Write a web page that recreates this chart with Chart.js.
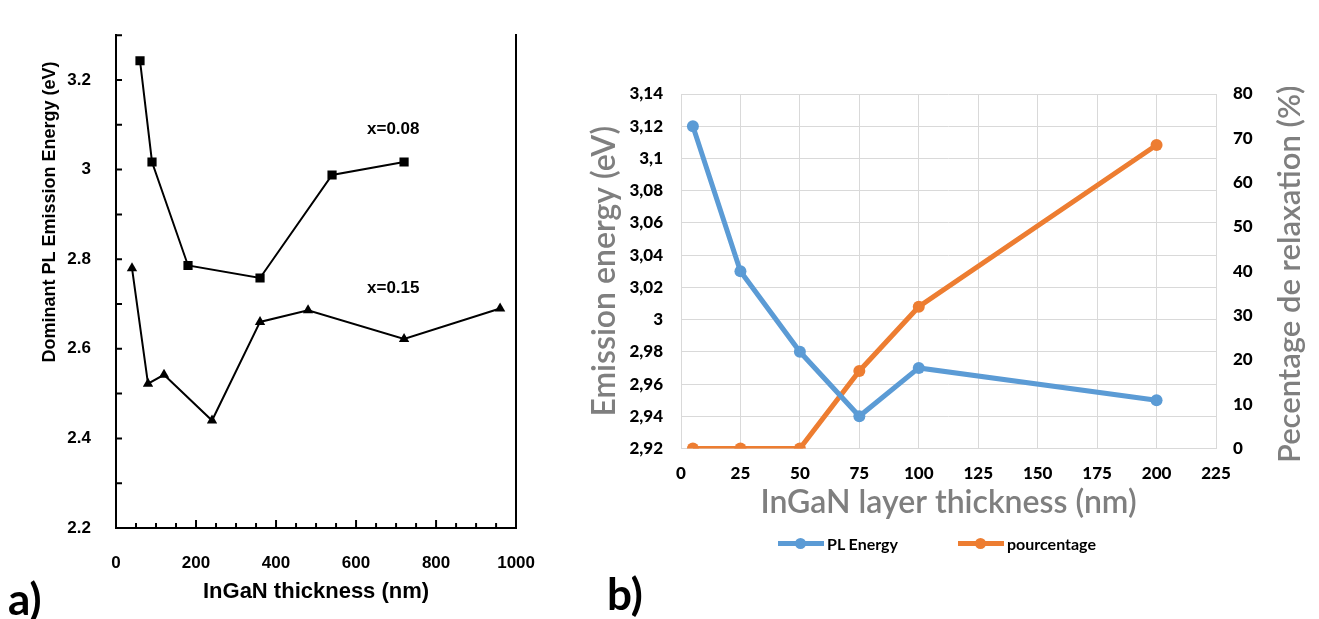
<!DOCTYPE html>
<html>
<head>
<meta charset="utf-8">
<script src="https://cdn.jsdelivr.net/npm/chart.js@4"></script>
<style>
  html, body { margin: 0; padding: 0; background: #fff; }
  body { width: 1319px; height: 619px; position: relative; overflow: hidden; }
  .panel { position: absolute; top: 0; height: 619px; }
  #panelA { left: 0; width: 560px; }
  #panelB { left: 560px; width: 759px; }
  .tag { position: absolute; font-family: Lato, sans-serif; font-weight: bold; font-size: 44px; line-height: 1; color: #000; }
  #legendB { position: absolute; left: 778px; top: 534px; display: flex; gap: 60px; font: bold 16px Lato, sans-serif; color: #000; }
  .leg-item { display: flex; align-items: center; }
  .leg-mark { position: relative; width: 46px; height: 5px; margin-right: 3px; }
  .leg-mark::after { content: ''; position: absolute; left: 17px; top: -3px; width: 11px; height: 11px; border-radius: 50%; background: inherit; }
</style>
</head>
<body>
<div class="panel" id="panelA"><canvas id="chartA"></canvas></div>
<div class="panel" id="panelB"><canvas id="chartB"></canvas></div>
<div id="legendB"></div>
<div class="tag" style="left:8px;top:576px">a)</div>
<div class="tag" style="left:607px;top:571px">b)</div>
<script>
// ---- panel a : PL energy vs InGaN thickness, two compositions
const thickA08 = [60, 90, 180, 360, 540, 720];
const energyA08 = [3.243, 3.017, 2.786, 2.758, 2.988, 3.017];
const thickA15 = [40, 80, 120, 240, 360, 480, 720, 960];
const energyA15 = [2.78, 2.522, 2.542, 2.44, 2.66, 2.686, 2.622, 2.69];

// ---- panel b : emission energy + relaxation percentage
const thickB = [5, 25, 50, 75, 100, 200];
const plEnergy = [3.12, 3.03, 2.98, 2.94, 2.97, 2.95];
const relaxPct = [0, 0, 0, 17.5, 32, 68.5];

const toPoints = (xs, ys) => xs.map((x, i) => ({ x: x, y: ys[i] }));

const fontA = "'Liberation Sans', Arial, sans-serif";
const fontB = "Lato, 'Open Sans', sans-serif";

// inward ticks, y title and curve labels for panel a
const panelAExtras = {
    id: 'panelAExtras',
    afterDraw(chart, args, opts) {
        const { ctx } = chart;
        const x = chart.scales.x;
        const y = chart.scales.y;
        ctx.save();
        ctx.strokeStyle = '#000';
        ctx.lineWidth = 2;
        ctx.beginPath();
        for (let v = 50; v <= 950; v += 50) {
            const px = x.getPixelForValue(v);
            const len = v % 200 === 0 ? 8 : 5;
            ctx.moveTo(px, y.bottom);
            ctx.lineTo(px, y.bottom - len);
        }
        for (let i = 1; i <= 11; i++) {
            const py = y.getPixelForValue(2.2 + i * 0.1);
            ctx.moveTo(x.left, py);
            ctx.lineTo(x.left + 6, py);
        }
        ctx.stroke();

        ctx.fillStyle = '#000';
        ctx.font = 'bold 17px ' + fontA;
        ctx.textAlign = 'center';
        ctx.textBaseline = 'middle';
        opts.labels.forEach(l => {
            ctx.fillText(l.text, x.getPixelForValue(l.x), y.getPixelForValue(l.y));
        });

        ctx.translate(50, 212);
        ctx.rotate(-Math.PI / 2);
        ctx.font = 'bold 18px ' + fontA;
        ctx.fillText('Dominant PL Emission Energy (eV)', 0, 0);
        ctx.restore();
    }
};

new Chart(document.getElementById('chartA'), {
    type: 'line',
    data: {
        datasets: [
            {
                label: 'x=0.08',
                data: toPoints(thickA08, energyA08),
                borderColor: '#000',
                backgroundColor: '#000',
                borderWidth: 2,
                pointStyle: 'rect',
                pointRadius: 6.5,
                pointBorderWidth: 0
            },
            {
                label: 'x=0.15',
                data: toPoints(thickA15, energyA15),
                borderColor: '#000',
                backgroundColor: '#000',
                borderWidth: 2,
                pointStyle: 'triangle',
                pointRadius: 6,
                pointBorderWidth: 0
            }
        ]
    },
    options: {
        responsive: true,
        maintainAspectRatio: false,
        animation: false,
        layout: { padding: { top: 13, left: 0, right: 0, bottom: 0 } },
        plugins: {
            legend: { display: false },
            tooltip: { enabled: false },
            panelAExtras: {
                labels: [
                    { text: 'x=0.08', x: 693, y: 3.091 },
                    { text: 'x=0.15', x: 693, y: 2.736 }
                ]
            }
        },
        scales: {
            x: {
                type: 'linear',
                min: 0,
                max: 1000,
                ticks: {
                    stepSize: 200,
                    color: '#000',
                    padding: 25,
                    font: { family: fontA, weight: 'bold', size: 17 },
                    callback: v => String(v)
                },
                grid: { display: false, drawTicks: false },
                border: { color: '#000', width: 2 },
                title: {
                    display: true,
                    text: 'InGaN thickness (nm)',
                    color: '#000',
                    font: { family: fontA, weight: 'bold', size: 22 },
                    padding: { top: 0, bottom: 14 }
                },
                afterFit(s) { s.height = 91; }
            },
            y: {
                min: 2.2,
                max: 3.3,
                ticks: {
                    stepSize: 0.1,
                    color: '#000',
                    padding: 25,
                    font: { family: fontA, weight: 'bold', size: 17 },
                    callback: v => (Math.round(v * 10) % 2 === 0 ? String(Math.round(v * 10) / 10) : '')
                },
                grid: { display: false, drawTicks: false },
                border: { color: '#000', width: 2 },
                afterFit(s) { s.width = 116; }
            },
            y2: {
                position: 'right',
                min: 2.2,
                max: 3.3,
                ticks: { display: false },
                grid: { display: false, drawTicks: false },
                border: { color: '#000', width: 2 },
                afterFit(s) { s.width = 30; }
            }
        }
    },
    plugins: [panelAExtras]
});

// right axis title of panel b reads bottom-to-top, so draw it here
const rightTitle = {
    id: 'rightTitle',
    afterDraw(chart, args, opts) {
        const { ctx, chartArea } = chart;
        ctx.save();
        ctx.translate(730, (chartArea.top + chartArea.bottom) / 2 + 3);
        ctx.rotate(-Math.PI / 2);
        ctx.fillStyle = '#7f7f7f';
        ctx.font = '600 31px ' + fontB;
        ctx.textAlign = 'center';
        ctx.textBaseline = 'middle';
        ctx.fillText(opts.text, 0, 0);
        ctx.restore();
    }
};

// legend as html, built from the chart's own legend items
const htmlLegend = {
    id: 'htmlLegend',
    afterUpdate(chart) {
        const box = document.getElementById('legendB');
        box.innerHTML = '';
        const items = chart.options.plugins.legend.labels.generateLabels(chart);
        items.forEach(item => {
            const li = document.createElement('div');
            li.className = 'leg-item';
            const mark = document.createElement('span');
            mark.className = 'leg-mark';
            mark.style.background = item.strokeStyle;
            const txt = document.createElement('span');
            txt.textContent = item.text;
            li.appendChild(mark);
            li.appendChild(txt);
            box.appendChild(li);
        });
    }
};

const tickFontB = { family: fontB, weight: '900', size: 17 };
const titleFontB = { family: fontB, weight: '600', size: 32 };

new Chart(document.getElementById('chartB'), {
    type: 'line',
    data: {
        datasets: [
            {
                label: 'PL Energy',
                data: toPoints(thickB, plEnergy),
                yAxisID: 'y',
                borderColor: '#5b9bd5',
                backgroundColor: '#5b9bd5',
                borderWidth: 5,
                pointRadius: 6,
                pointBorderWidth: 0
            },
            {
                label: 'pourcentage',
                data: toPoints(thickB, relaxPct),
                yAxisID: 'y1',
                borderColor: '#ed7d31',
                backgroundColor: '#ed7d31',
                borderWidth: 5,
                pointRadius: 6,
                pointBorderWidth: 0
            }
        ]
    },
    options: {
        responsive: true,
        maintainAspectRatio: false,
        animation: false,
        layout: { padding: { top: 94, left: 0, right: 0, bottom: 97 } },
        plugins: {
            legend: { display: false },
            tooltip: { enabled: false },
            rightTitle: { text: 'Pecentage de relaxation (%)' }
        },
        scales: {
            x: {
                type: 'linear',
                min: 0,
                max: 225,
                ticks: { stepSize: 25, color: '#000', padding: 15, font: tickFontB },
                grid: { color: '#d9d9d9', drawTicks: false },
                border: { color: '#d9d9d9' },
                title: {
                    display: true,
                    text: 'InGaN layer thickness (nm)',
                    color: '#7f7f7f',
                    font: titleFontB,
                    padding: { top: 0, bottom: 0 }
                },
                afterFit(s) { s.height = 619 - 97 - 448.5; }
            },
            y: {
                position: 'left',
                min: 2.92,
                max: 3.14,
                ticks: {
                    stepSize: 0.02,
                    color: '#000',
                    padding: 18,
                    font: tickFontB,
                    callback: v => parseFloat(v.toFixed(2)).toString().replace('.', ',')
                },
                grid: { color: '#d9d9d9', drawTicks: false },
                border: { display: false },
                title: {
                    display: true,
                    text: 'Emission energy (eV)',
                    color: '#7f7f7f',
                    font: titleFontB,
                    padding: { top: 25, bottom: 0 }
                },
                afterFit(s) { s.width = 121; }
            },
            y1: {
                position: 'right',
                min: 0,
                max: 80,
                ticks: { stepSize: 10, color: '#000', padding: 17, font: tickFontB },
                grid: { display: false, drawTicks: false },
                border: { display: false },
                afterFit(s) { s.width = 103; }
            }
        }
    },
    plugins: [rightTitle, htmlLegend]
});
</script>
</body>
</html>
